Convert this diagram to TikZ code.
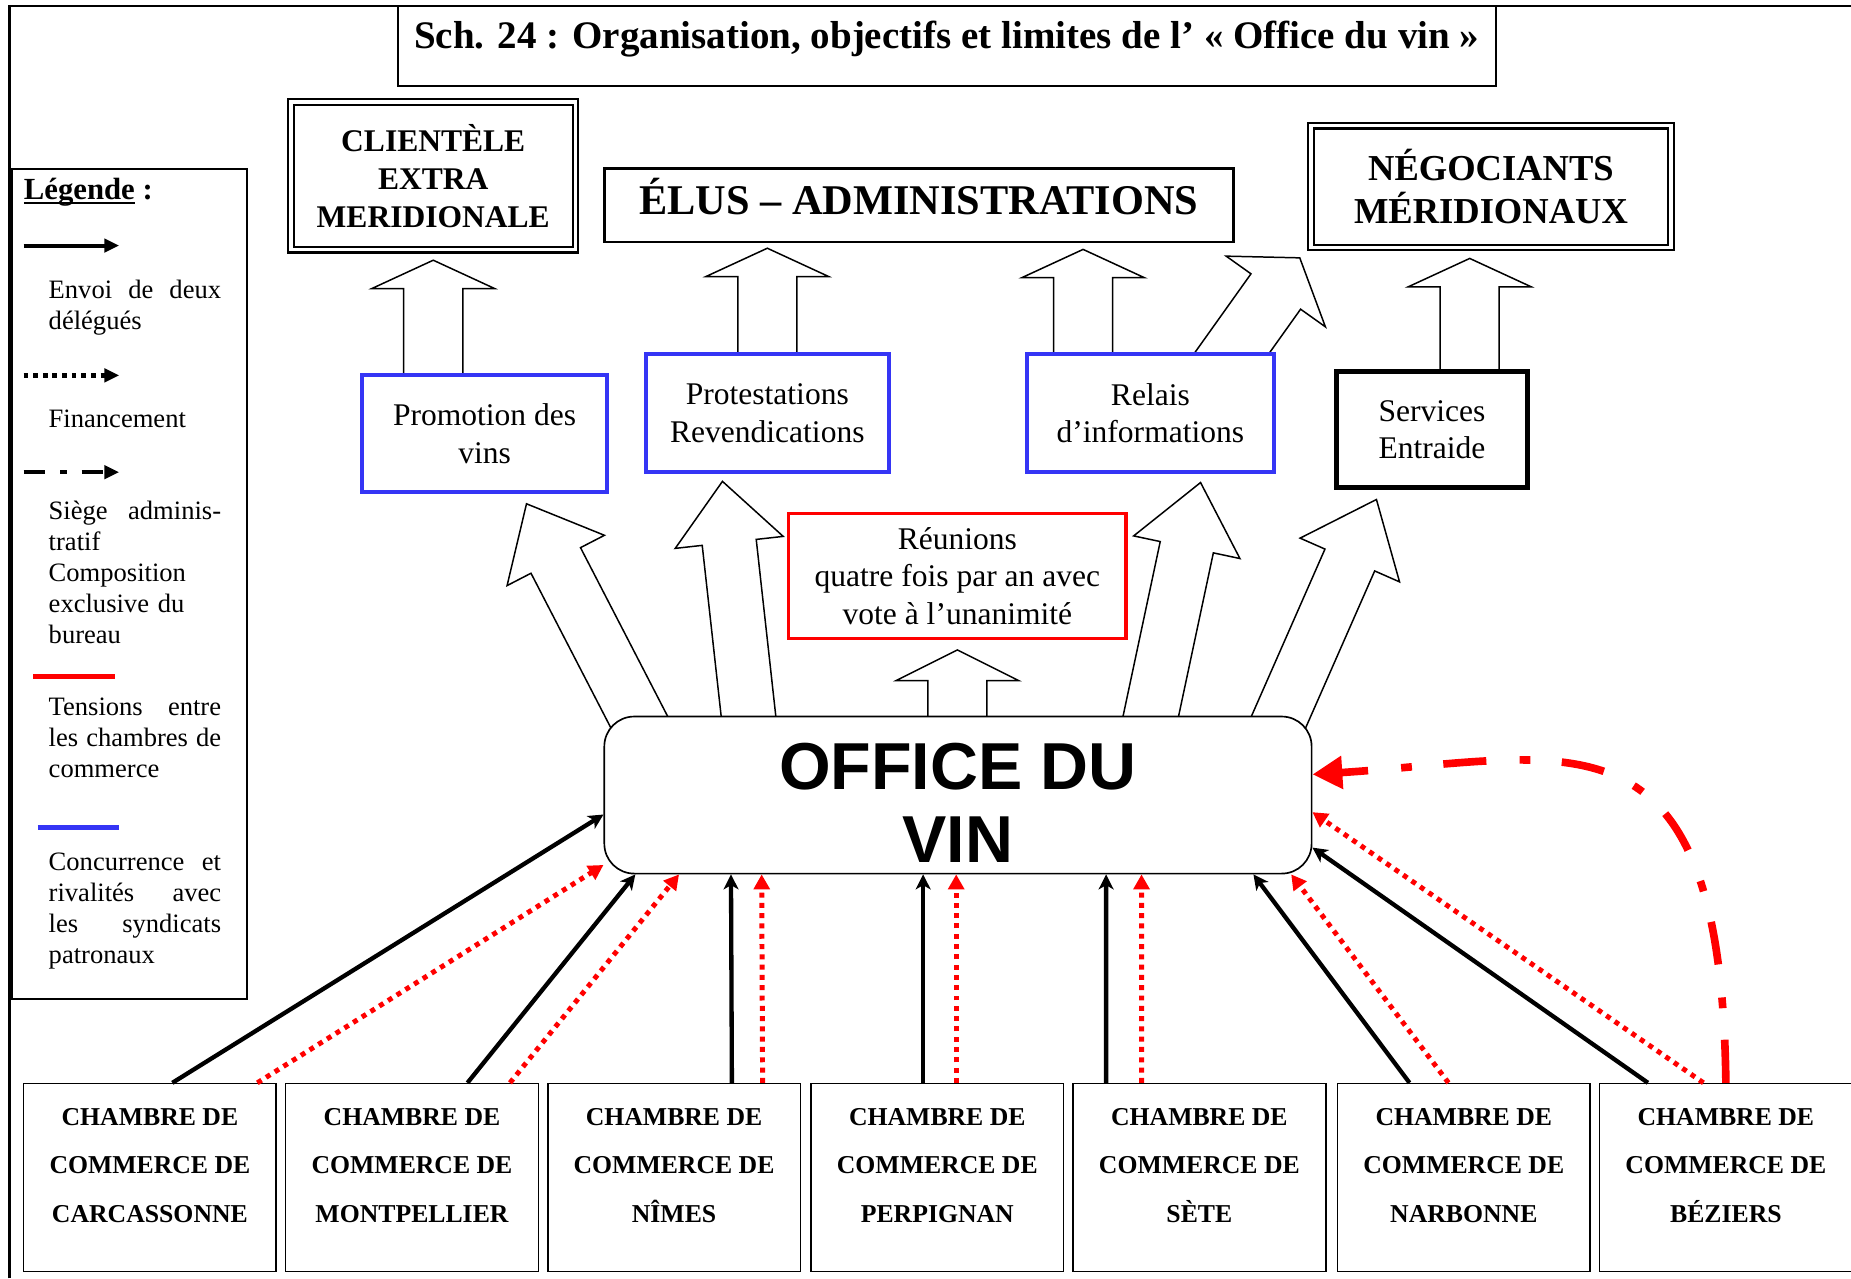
\documentclass[tikz,border=0pt]{standalone}
\usepackage{fontspec}
\setmainfont{Liberation Serif}
\newfontfamily\officefont{Liberation Sans}
\usepackage{xcolor}
\usepackage{tikz}
\usetikzlibrary{arrows.meta,positioning,calc,backgrounds}
\definecolor{rivalblue}{HTML}{3535F5}
\definecolor{tensred}{HTML}{FF0000}
% hollow block arrow: start, tip, shaft half width, head half width, head length
\newcommand{\fatarrow}[5]{%
  \coordinate (fahead) at ($(#2)!#5!(#1)$);
  \draw[fat] ($(#1)!#3!90:(#2)$) -- ($(fahead)!#3!90:(#2)$) -- ($(fahead)!#4!90:(#2)$) -- (#2)
    -- ($(fahead)!#4!-90:(#2)$) -- ($(fahead)!#3!-90:(#2)$) -- ($(#1)!#3!-90:(#2)$) -- cycle;}
\newcommand{\spread}{\hskip 0pt plus 1filll\relax}
\newcommand{\chamberlift}{\rule[-15pt]{0pt}{0pt}}
\newcommand{\legunder}[1]{\setbox0\hbox{#1}\rlap{\rule[-2.6pt]{\wd0}{1.3pt}}\box0\relax}

\begin{document}
\begin{tikzpicture}[x=0.025cm, y=-0.025cm,
  titlebox/.style={draw, line width=1pt, fill=white, minimum width=23.25cm, minimum height=1.7cm, text height=18pt, text depth=15.3pt, font=\bfseries\fontsize{23.5pt}{28pt}\selectfont},
  legendbox/.style={draw, line width=1pt, fill=white, minimum width=4.975cm, minimum height=17.575cm},
  legtext/.style={anchor=north west, inner sep=0pt, text width=3.65cm, align=left, font=\fontsize{16pt}{18.7pt}\selectfont},
  target/.style={draw, double, line width=1.3pt, double distance=2pt, fill=white, align=center, font=\bfseries\fontsize{19pt}{22.8pt}\selectfont},
  role/.style={draw=rivalblue, line width=2.5pt, fill=white, align=center, font=\fontsize{19pt}{22.8pt}\selectfont},
  chamber/.style={draw, line width=1pt, fill=white, minimum width=5.35cm, minimum height=3.975cm, align=center, font=\bfseries\fontsize{15.5pt}{29.2pt}\selectfont},
  delegue/.style={line width=2.6pt, -{Stealth[length=9pt,width=9pt,inset=2.5pt]}},
  finance/.style={tensred, line width=3pt, dash pattern=on 3pt off 3.2pt, -{Triangle[length=9pt,width=9.5pt]}},
  siege/.style={tensred, line width=4.6pt, dash pattern=on 26pt off 19pt on 6.5pt off 20pt, -{Triangle[length=18pt,width=19pt]}},
  legsolid/.style={line width=2.4pt, -{Triangle[length=9pt,width=8pt]}},
  legdot/.style={line width=2.8pt, dash pattern=on 2.8pt off 3pt, -{Triangle[length=9pt,width=8pt]}},
  legdash/.style={line width=2.6pt, dash pattern=on 13pt off 9pt on 4pt off 9pt, -{Triangle[length=9pt,width=8pt]}},
  fat/.style={draw, line width=0.9pt, fill=white, line join=miter}
]
  \useasboundingbox (0,0) rectangle (1568,1083);
  \draw[line width=1.3pt] (8,1083) -- (8,5) -- (1568,5);

  % title and legend
  \node[titlebox] (title) at (802,39) {Sch. 24 : Organisation, objectifs et limites de l’ « Office du vin »};
  \node[legendbox] (legend) at (109.5,494.5) {};
  \node[anchor=west, inner sep=0pt, font=\bfseries\fontsize{18.5pt}{22pt}\selectfont] (legtitle) at (20,163) {\legunder{Légende} :};
  \coordinate (ls1) at (20,208);  \coordinate (le1) at (101,208);
  \coordinate (ls2) at (20,318);  \coordinate (le2) at (101,318);
  \coordinate (ls3) at (20,400);  \coordinate (le3) at (101,400);
  \coordinate (ls4) at (28,573);  \coordinate (le4) at (97,573);
  \coordinate (ls5) at (32,701);  \coordinate (le5) at (101,701);
  \draw[legsolid] (ls1) -- (le1);
  \draw[legdot] (ls2) -- (le2);
  \draw[legdash] (ls3) -- (le3);
  \draw[tensred, line width=3pt] (ls4) -- (le4);
  \draw[rivalblue, line width=3pt] (ls5) -- (le5);
  \node[legtext] (legenvoi) at (41,237) {Envoi\spread de\spread deux\\délégués};
  \node[legtext] (legfin) at (41,347) {Financement};
  \node[legtext] (legsiege) at (41,424) {Siège\spread adminis-\\tratif\\Composition\\exclusive du\\bureau};
  \node[legtext] (legtens) at (41,591) {Tensions\spread entre\\les\spread chambres\spread de\\commerce};
  \node[legtext] (legconc) at (41,722) {Concurrence\spread et\\rivalités\spread avec\\les\spread syndicats\\patronaux};

  % upper targets
  \node[target, minimum width=6.025cm, minimum height=3.125cm] (clientele) at (367,149) {CLIENTÈLE\\EXTRA\\MERIDIONALE};
  \node[draw, line width=1.8pt, fill=white, minimum width=13.325cm, minimum height=1.55cm, text height=20pt, text depth=8.6pt, font=\bfseries\fontsize{25.5pt}{30pt}\selectfont] (elus) at (778.5,174) {ÉLUS – ADMINISTRATIONS};
  \node[target, minimum width=7.625cm, minimum height=2.575cm, font=\bfseries\fontsize{22pt}{25.6pt}\selectfont] (negoc) at (1263,158) {NÉGOCIANTS\\MÉRIDIONAUX};

  % roles of the office
  \node[role, minimum width=5.175cm, minimum height=2.475cm] (promo) at (410.5,367.5) {Promotion des\\vins};
  \node[role, minimum width=5.15cm, minimum height=2.5cm] (protest) at (650,350) {Protestations\\Revendications};
  \node[role, minimum width=5.225cm, minimum height=2.5cm] (relais) at (974.5,350) {Relais\\d’informations};
  \node[role, draw=black, line width=3pt, minimum width=4.05cm, minimum height=2.45cm] (services) at (1213,364) {Services\\Entraide};
  \node[role, draw=tensred, line width=2.2pt, minimum width=7.15cm, minimum height=2.65cm] (reunion) at (811,488) {Réunions\\quatre fois par an avec\\vote à l’unanimité};

  \node[draw, line width=1pt, fill=white, rounded corners=18pt, minimum width=14.975cm, minimum height=3.325cm, align=center, font=\officefont\bfseries\fontsize{40pt}{44pt}\selectfont] (office) at (811.5,673.5) {\rule{0pt}{37pt}OFFICE DU\\VIN};

  % chambers of commerce
  \node[chamber] (c1) at (127,997.5) {CHAMBRE DE\\COMMERCE DE\\CARCASSONNE\chamberlift};
  \node[chamber] (c2) at (349,997.5) {CHAMBRE DE\\COMMERCE DE\\MONTPELLIER\chamberlift};
  \node[chamber] (c3) at (571,997.5) {CHAMBRE DE\\COMMERCE DE\\NÎMES\chamberlift};
  \node[chamber] (c4) at (794,997.5) {CHAMBRE DE\\COMMERCE DE\\PERPIGNAN\chamberlift};
  \node[chamber] (c5) at (1016,997.5) {CHAMBRE DE\\COMMERCE DE\\SÈTE\chamberlift};
  \node[chamber] (c6) at (1240,997.5) {CHAMBRE DE\\COMMERCE DE\\NARBONNE\chamberlift};
  \node[chamber] (c7) at (1462,997.5) {CHAMBRE DE\\COMMERCE DE\\BÉZIERS\chamberlift};

  % hollow arrows
  \begin{pgfonlayer}{background}
    \coordinate (pv1) at ($(clientele.south)+(0,8)$);   \coordinate (pv0) at (pv1 |- promo.center);
    \coordinate (pr1) at ($(elus.south)+(-128.5,4)$);   \coordinate (pr0) at (pr1 |- protest.center);
    \coordinate (re1) at ($(elus.south)+(139,5)$);      \coordinate (re0) at (re1 |- relais.center);
    \coordinate (se1) at ($(negoc.south)+(-18,8.5)$);   \coordinate (se0) at (se1 |- services.center);
    \coordinate (ou1) at ($(reunion.south)+(0,8)$);     \coordinate (ou0) at (ou1 |- office.center);
    \coordinate (rn0) at ($(relais.north east)+(-53,23)$); \coordinate (rn1) at ($(negoc.south west)+(-8.5,8)$);
    \coordinate (op0) at ($(office.north west)+(43,30)$);  \coordinate (op1) at ($(promo.south)+(35.5,8)$);
    \coordinate (oq0) at ($(office.north west)+(126,29)$); \coordinate (oq1) at ($(protest.south)+(-38,6)$);
    \coordinate (oi0) at ($(office.north east)+(-143,29)$); \coordinate (oi1) at ($(relais.south)+(42.5,7)$);
    \coordinate (os0) at ($(office.north east)+(-40,31)$); \coordinate (os1) at ($(services.south)+(-47,8)$);
    \fatarrow{pv0}{pv1}{0.625cm}{1.3cm}{0.6cm}
    \fatarrow{pr0}{pr1}{0.625cm}{1.3cm}{0.6cm}
    \fatarrow{re0}{re1}{0.625cm}{1.3cm}{0.6cm}
    \fatarrow{se0}{se1}{0.625cm}{1.3cm}{0.6cm}
    \fatarrow{ou0}{ou1}{0.625cm}{1.3cm}{0.65cm}
    \fatarrow{rn0}{rn1}{0.645cm}{1.29cm}{0.875cm}
    \fatarrow{op0}{op1}{0.59cm}{1.16cm}{1.35cm}
    \fatarrow{oq0}{oq1}{0.575cm}{1.15cm}{1.3cm}
    \fatarrow{oi0}{oi1}{0.575cm}{1.15cm}{1.4cm}
    \fatarrow{os0}{os1}{0.575cm}{1.15cm}{1.4cm}
  \end{pgfonlayer}

  % delegates and funding
  \draw[delegue] ($(c1.north)+(19,0)$) -- ($(office.west)+(0,16.5)$);
  \draw[finance] ($(c1.north)+(91,0)$) -- ($(office.south west)+(0,-8)$);
  \draw[delegue] ($(c2.north)+(47,0)$) -- ($(office.south west)+(27,0)$);
  \draw[finance] ($(c2.north)+(83,0)$) -- ($(office.south west)+(64,0)$);
  \draw[delegue] ($(c3.north)+(49,0)$) -- ($(office.south west)+(108,0)$);
  \draw[finance] ($(c3.north)+(75,0)$) -- ($(office.south west)+(134,0)$);
  \draw[delegue] ($(c4.north)+(-12,0)$) -- ($(office.south)+(-29.5,0)$);
  \draw[finance] ($(c4.north)+(16,0)$) -- ($(office.south)+(-1.5,0)$);
  \draw[delegue] ($(c5.north)+(-79,0)$) -- ($(office.south)+(125.5,0)$);
  \draw[finance] ($(c5.north)+(-49,0)$) -- ($(office.south)+(155.5,0)$);
  \draw[delegue] ($(c6.north)+(-46,0)$) -- ($(office.south east)+(-50,0)$);
  \draw[finance] ($(c6.north)+(-13,0)$) -- ($(office.south east)+(-18,0)$);
  \draw[delegue] ($(c7.north)+(-66,0)$) -- ($(office.east)+(0,44.5)$);
  \draw[finance] ($(c7.north)+(-19,0)$) -- ($(office.east)+(0,14.5)$);

  % seat of the office
  \draw[siege] (c7.north) .. controls +(-4,-328) and +(219,-14) .. ($(office.east)+(0,-17.5)$);
\end{tikzpicture}
\end{document}
